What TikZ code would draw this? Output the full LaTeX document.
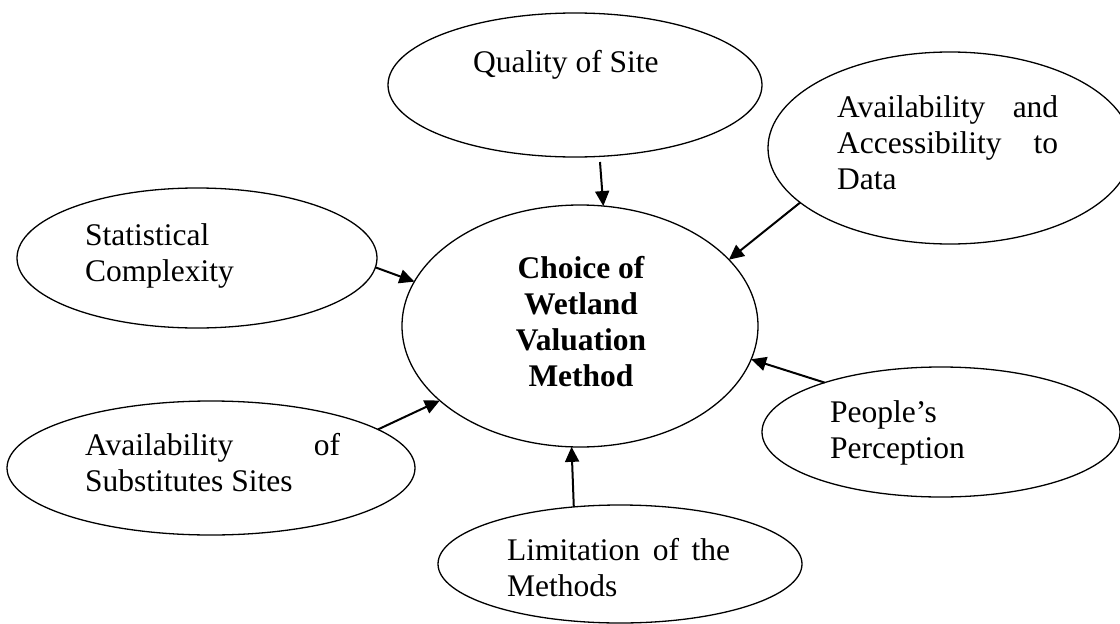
\documentclass[tikz,border=0pt]{standalone}
\usepackage{fontspec}
\setmainfont{Liberation Serif}
\usetikzlibrary{shapes.geometric,arrows.meta}
\newcommand\bodyfont{\fontsize{31.5}{36}\selectfont}
\begin{document}
\begin{tikzpicture}[x=1pt,y=-1pt,
  bubble/.style={ellipse, draw, line width=1.3pt, inner sep=0pt, outer sep=0pt},
  words/.style={inner sep=0pt, anchor=north west, align=left, font=\bodyfont},
  link/.style={line width=2pt, -{Triangle[length=15pt,width=14pt]}}]
\useasboundingbox (0,0) rectangle (1120,624);
\clip (0,0) rectangle (1120,624);

% ellipses
\node[bubble, minimum width=374pt, minimum height=144pt] (quality) at (575,85) {};
\node[bubble, minimum width=364pt, minimum height=192pt] (data) at (950,148) {};
\node[bubble, minimum width=360pt, minimum height=140pt] (stat) at (197,258) {};
\node[bubble, minimum width=356pt, minimum height=242pt] (choice) at (580,326) {};
\node[bubble, minimum width=358pt, minimum height=130pt] (people) at (941,432) {};
\node[bubble, minimum width=408pt, minimum height=134pt] (subst) at (211,468) {};
\node[bubble, minimum width=364pt, minimum height=118pt] (limit) at (620,564) {};

% texts
\node[words] (quality-t) at (473,46.8) {\strut Quality of Site};
\node[words] (data-t) at (837,91.8) {\strut\makebox[221pt][s]{Availability and}\\
  \makebox[221pt][s]{Accessibility to}\\ Data};
\node[words] (stat-t) at (85,219.8) {\strut Statistical\\ Complexity};
\node[words, anchor=north, align=center, font=\bodyfont\bfseries] (choice-t) at (581,252.8)
  {\strut Choice of\\ Wetland\\ Valuation\\ Method};
\node[words] (people-t) at (830,396.8) {\strut People’s\\ Perception};
\node[words] (subst-t) at (85,429.8) {\strut\makebox[255pt][s]{Availability of}\\
  Substitutes Sites};
\node[words] (limit-t) at (507,534.8) {\strut\makebox[223pt][s]{Limitation of the}\\ Methods};

% arrows into the central ellipse
\coordinate (quality-out) at ([xshift=25pt,yshift=-5pt]quality.south);
\draw[link] (quality-out) -- (choice.79.7);
\draw[link] (data.200) -- (choice.24.5);
\draw[link] (stat.-3) -- (choice.165.4);
\draw[link] (subst.13) -- (choice.208.5);
\draw[link] (limit.129) -- (choice.266.6);
\draw[link] (people.157) -- (choice.349);
\end{tikzpicture}
\end{document}
